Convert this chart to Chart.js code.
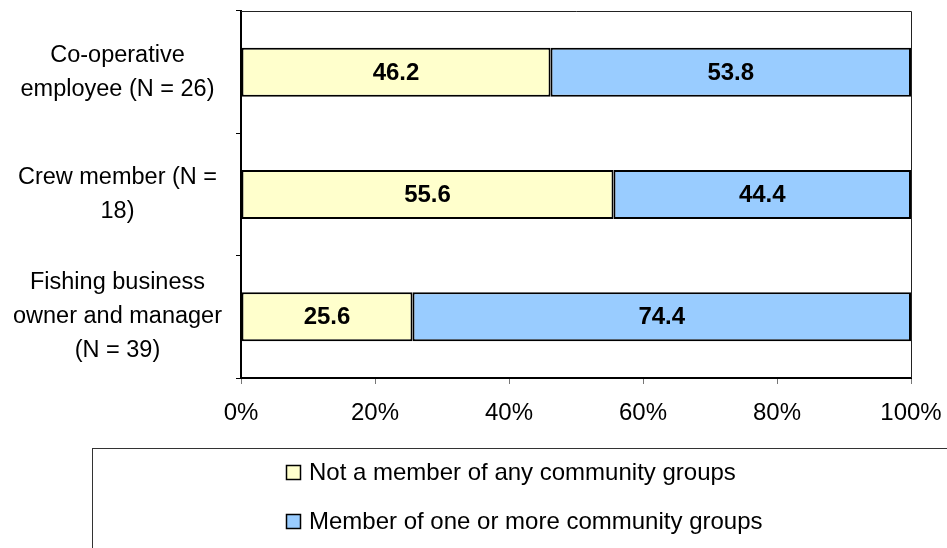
<!DOCTYPE html>
<html>
<head>
<meta charset="utf-8">
<script src="https://cdn.jsdelivr.net/npm/chart.js@4"></script>
<style>
  html, body { margin: 0; padding: 0; background: #fff; }
  #wrap { width: 947px; height: 548px; }
</style>
</head>
<body>
<div id="wrap"><canvas id="diagram-canvas" width="947" height="548"></canvas></div>
<script>
// values
const categories = [
  ["Co-operative", "employee (N = 26)"],
  ["Crew member (N =", "18)"],
  ["Fishing business", "owner and manager", "(N = 39)"]
];
const seriesNames = ["Not a member of any community groups", "Member of one or more community groups"];
const notMember = [46.2, 55.6, 25.6];
const member = [53.8, 44.4, 74.4];
const xTickStep = 20;
const xMax = 100;

const FONT = "'Liberation Sans', Arial, sans-serif";

// bold numbers in the middle of each bar
const valueLabels = {
  id: "valueLabels",
  afterDatasetsDraw(chart) {
    const ctx = chart.ctx;
    ctx.save();
    ctx.font = "bold 24px " + FONT;
    ctx.fillStyle = "#000";
    ctx.textAlign = "center";
    ctx.textBaseline = "middle";
    chart.data.datasets.forEach((ds, i) => {
      chart.getDatasetMeta(i).data.forEach((el, j) => {
        ctx.fillText(ds.data[j].toFixed(1), (el.x + el.base) / 2, el.y + 1);
      });
    });
    ctx.restore();
  }
};

// thin frame on top and right of plot area
const plotFrame = {
  id: "plotFrame",
  beforeDatasetsDraw(chart) {
    const a = chart.chartArea, ctx = chart.ctx;
    ctx.save();
    ctx.strokeStyle = "#222";
    ctx.lineWidth = 1;
    ctx.beginPath();
    ctx.moveTo(a.left, a.top + 0.5);
    ctx.lineTo(a.right + 0.5, a.top + 0.5);
    ctx.lineTo(a.right + 0.5, a.bottom);
    ctx.stroke();
    ctx.restore();
  }
};

// boxed legend, items stacked vertically
const boxLegend = {
  id: "boxLegend",
  afterDraw(chart) {
    const ctx = chart.ctx;
    ctx.save();
    ctx.strokeStyle = "#333";
    ctx.lineWidth = 1;
    ctx.strokeRect(92.5, 448.5, 1000, 200);
    ctx.font = "24px " + FONT;
    ctx.textBaseline = "middle";
    ctx.textAlign = "left";
    chart.data.datasets.forEach((ds, i) => {
      const y = 473 + i * 49;
      ctx.fillStyle = ds.backgroundColor;
      ctx.fillRect(286.5, y - 7.5, 14, 14);
      ctx.strokeStyle = "#000";
      ctx.lineWidth = 1.5;
      ctx.strokeRect(286.5, y - 7.5, 14, 14);
      ctx.fillStyle = "#000";
      ctx.fillText(ds.label, 309, y);
    });
    ctx.restore();
  }
};

const data = {
  labels: categories,
  datasets: [
    {
      label: seriesNames[0],
      data: notMember,
      backgroundColor: "#FFFFCC",
      borderColor: "#000",
      borderWidth: 2,
      borderSkipped: false
    },
    {
      label: seriesNames[1],
      data: member,
      backgroundColor: "#99CCFF",
      borderColor: "#000",
      borderWidth: 2,
      borderSkipped: false
    }
  ]
};

const config = {
  type: "bar",
  data: data,
  options: {
    indexAxis: "y",
    responsive: false,
    animation: false,
    barPercentage: 0.8,
    categoryPercentage: 0.5,
    layout: { padding: { left: 0, top: 11, right: 36, bottom: 0 } },
    scales: {
      x: {
        stacked: true,
        min: 0,
        max: xMax,
        afterFit(scale) {
          scale.height = 170;
          scale.paddingLeft = 0;
          scale.paddingRight = 0;
        },
        ticks: {
          stepSize: xTickStep,
          color: "#000",
          padding: 15,
          font: { family: FONT, size: 24 },
          callback: v => v + "%"
        },
        grid: { drawOnChartArea: false, tickLength: 6, color: "#777" },
        border: { color: "#000", width: 2 }
      },
      y: {
        stacked: true,
        afterFit(scale) {
          scale.width = 241;
          scale.paddingTop = 0;
          scale.paddingBottom = 0;
        },
        ticks: {
          color: "#000",
          autoSkip: false,
          crossAlign: "center",
          padding: 14,
          font: { family: FONT, size: 23.5, lineHeight: 1.45 }
        },
        grid: { drawOnChartArea: false, tickLength: 5, color: "#000", offset: true },
        border: { color: "#000", width: 2 }
      }
    },
    plugins: {
      legend: { display: false },
      tooltip: { enabled: false }
    }
  },
  plugins: [plotFrame, valueLabels, boxLegend]
};

const chart = new Chart(document.getElementById("diagram-canvas").getContext("2d"), config);
</script>
</body>
</html>
